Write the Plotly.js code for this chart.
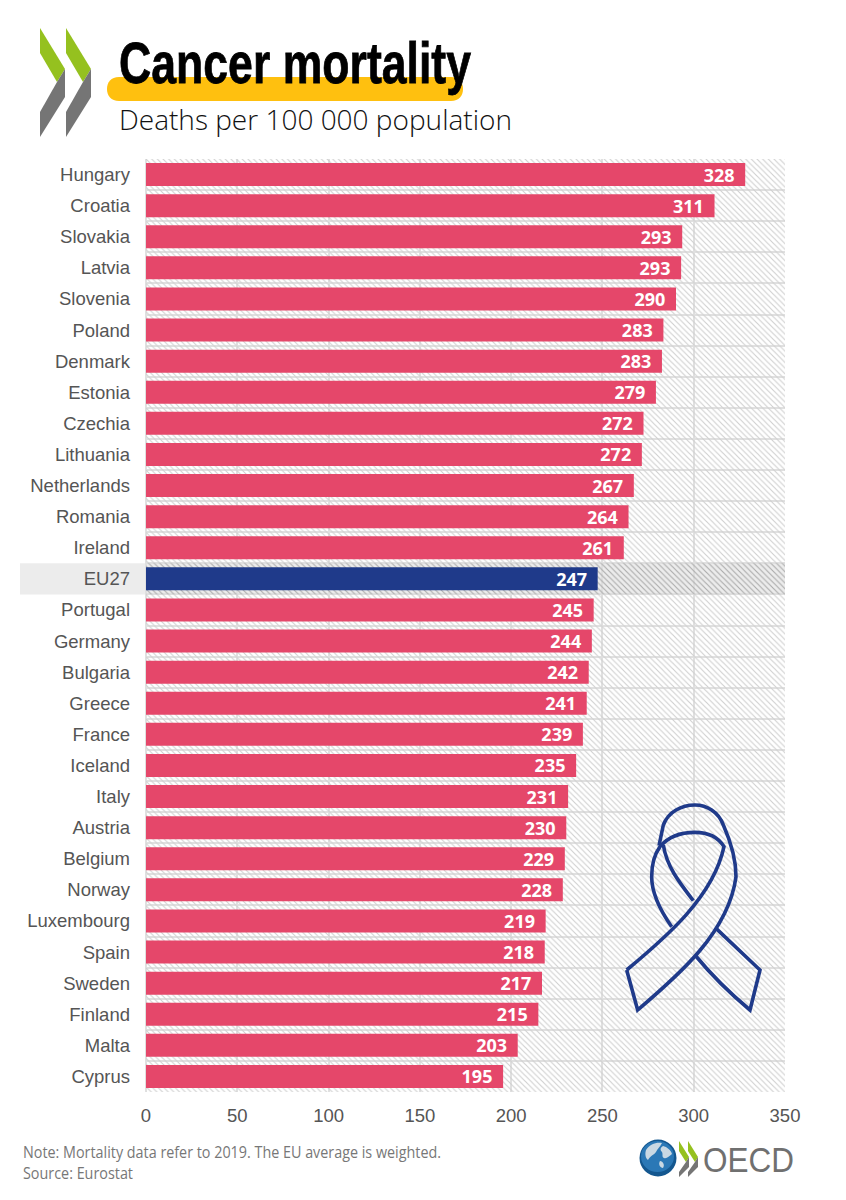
<!DOCTYPE html>
<html><head><meta charset="utf-8">
<script src="https://cdn.plot.ly/plotly-3.0.1.min.js"></script>
<style>html,body{margin:0;padding:0;background:#fff}#c{width:846px;height:1200px}</style>
</head><body><div id="c"></div>
<script>
const countries = ["Hungary","Croatia","Slovakia","Latvia","Slovenia","Poland","Denmark","Estonia","Czechia","Lithuania","Netherlands","Romania","Ireland","EU27","Portugal","Germany","Bulgaria","Greece","France","Iceland","Italy","Austria","Belgium","Norway","Luxembourg","Spain","Sweden","Finland","Malta","Cyprus"];
const deaths = [328,311,293,293,290,283,283,279,272,272,267,264,261,247,245,244,242,241,239,235,231,230,229,228,219,218,217,215,203,195];
// Positions drawn on the chart carry one decimal so bar ends match the picture; labels stay whole.
const barLengths = [328.2,311.4,293.7,293.1,290.3,283.4,282.6,279.3,272.5,271.6,267.2,264.3,261.7,247.4,245.2,244.2,242.5,241.4,239.3,235.6,231.2,230.2,229.4,228.3,218.9,218.4,216.9,214.9,203.6,195.6];
const xTicks = [0,50,100,150,200,250,300,350];
const axisMax = 350;
const highlight = "EU27";

const L=146,R=785,T=159,B=1092;
const px=x=>(x-L)/(R-L), py=y=>1-(y-T)/(B-T);
function path(d,ox=0,oy=0,s=1){
  let i=0;
  return d.replace(/-?\d+(\.\d+)?/g,m=>{const v=+m;const r=(i++%2===0)?px(ox+v*s):py(oy+v*s);return r.toFixed(5);});
}
const shape=(d,fill,line,w,layer,o)=>({type:'path',xref:'paper',yref:'paper',path:path(d,...(o||[])),fillcolor:fill||'rgba(0,0,0,0)',line:{color:line||'rgba(0,0,0,0)',width:w||0},layer:layer||'above'});
const circle=(x0,x1,y0,y1,fill)=>({type:'circle',xref:'paper',yref:'paper',x0:px(x0),x1:px(x1),y0:py(y1),y1:py(y0),fillcolor:fill,line:{width:0},layer:'above'});

const G='#95C11F',K='#757575';
const chevron=dx=>[
 shape(`M${40+dx},28 L${65+dx},69 L${57+dx},82 L${40+dx},53 Z`,G),
 shape(`M${57+dx},82 L${65+dx},69 L${65+dx},97 L${40+dx},137 L${40+dx},112 Z`,K)
];
const mini=dx=>[
 shape(`M${679+dx},1141 L${689+dx},1157 L${686+dx},1162 L${679+dx},1151 Z`,G),
 shape(`M${686+dx},1162 L${689+dx},1157 L${689+dx},1167 L${679+dx},1177 L${679+dx},1172 Z`,K)
];
const rib=[600,780,1/3];
const ribbon=[
 "M80,570 L113,690 C230,590 385,460 408,290 C408,240 390,180 370,135 C355,95 320,75 285,75 C245,75 205,95 190,135 L177,197",
 "M80,570 C200,470 340,350 372,200 C355,172 325,157 285,157 C245,157 205,170 180,200 C162,225 155,255 155,290 C155,340 180,390 215,440",
 "M190,195 C200,260 240,310 280,362",
 "M348,445 L480,570 L450,690 C390,640 330,580 285,525"
].map(d=>shape(d,null,'#1F3A8A',3.6,'above',rib));

const euIdx=countries.indexOf(highlight);
const euTop=T+(B-T)/countries.length*euIdx, euBot=euTop+(B-T)/countries.length;

const shapes=[
 {type:'rect',xref:'paper',yref:'paper',x0:px(20),x1:px(785),y0:py(euBot),y1:py(euTop),fillcolor:'#ececec',line:{width:0},layer:'below'},
 ...chevron(0),...chevron(26),
 shape("M119,77 L451,77 C459,77 463,82 463,89 C463,96 459,101 451,101 L119,101 C111,101 107,96 107,89 C107,82 111,77 119,77 Z",'#FFC00F'),
 ...ribbon,
 circle(639.5,676.5,1139.5,1176.5,'#14578F'),
 circle(641,674,1141,1172,'#2B78B6'),
 shape("M646,1150 C650,1144 656,1142 662,1143 C660,1147 657,1149 656,1152 C654,1155 650,1156 648,1160 C645,1158 645,1153 646,1150 Z",'#C9D8E3'),
 shape("M663,1146 C667,1147 671,1150 672,1154 C669,1156 667,1159 664,1158 C661,1157 664,1153 661,1151 C660,1149 661,1147 663,1146 Z",'#C9D8E3'),
 shape("M660,1161 C663,1161 665,1165 663,1168 C660,1168 658,1164 660,1161 Z",'#C9D8E3'),
 ...mini(0),...mini(9)
];

const ann=(x,y,text,font)=>({xref:'paper',yref:'paper',x:px(x),y:py(y),text,showarrow:false,xanchor:'left',yanchor:'middle',align:'left',borderpad:0,font});
const annotations=[
 ann(118,63,'Cancer mortality',{size:58,color:'#000',family:'"Liberation Sans"',weight:700}),
 ann(118,119,'Deaths per 100 000 population',{size:28,color:'#111',family:'"Open Sans"',weight:300}),
 ann(22,1151,'Note: Mortality data refer to 2019. The EU average is weighted.',{size:16.5,color:'#777',family:'"Open Sans"'}),
 ann(22,1172,'Source: Eurostat',{size:16.5,color:'#777',family:'"Open Sans"'}),
 ann(702,1159,'OECD',{size:35,color:'#707070',family:'"Liberation Sans"'})
];
// Text width in the picture: condensed faces are not installed, so these strings are squeezed to fit.
const fitWidths={'Cancer mortality':[352,0.8],'Note: Mortality data refer to 2019. The EU average is weighted.':[418,0],'Source: Eurostat':[110,0],'OECD':[91,0]};

const backdrop={type:'bar',orientation:'h',y:countries,x:countries.map(()=>axisMax),width:1,
 marker:{color:'rgba(0,0,0,0)',line:{width:0},pattern:{shape:'\\',size:4,solidity:0.28,
   fgcolor:countries.map(c=>c===highlight?'#aaaaaa':'#cfcfcf'),bgcolor:'rgba(0,0,0,0)'}},hoverinfo:'skip',showlegend:false};
const bars={type:'bar',orientation:'h',y:countries,x:barLengths,width:0.74,
 text:deaths.map(v=>String(v)+'\u00a0\u2009'),textposition:'inside',insidetextanchor:'end',textangle:0,constraintext:'none',
 textfont:{family:'"Open Sans"',size:18,color:'#fff',weight:700},
 marker:{color:countries.map(c=>c===highlight?'#1F3A8A':'#E5476A'),line:{width:0}},showlegend:false,
 hovertemplate:'%{y}: %{text}<extra></extra>'};

Plotly.newPlot('c',[backdrop,bars],{
 width:846,height:1200,margin:{l:L,r:846-R,t:T,b:1200-B,pad:0},
 paper_bgcolor:'#fff',plot_bgcolor:'#fff',barmode:'overlay',showlegend:false,
 font:{family:'"Liberation Sans"',color:'#555'},
 xaxis:{range:[0,axisMax],tickvals:xTicks,ticktext:xTicks.map(String),showgrid:true,gridcolor:'#e0e0e0',gridwidth:2,zeroline:true,zerolinecolor:'#e0e0e0',zerolinewidth:2,
   showline:false,ticks:'',ticklen:0,ticklabelstandoff:10,tickfont:{size:18.5,color:'#555',family:'"Liberation Sans"'},fixedrange:true},
 yaxis:{type:'category',categoryorder:'array',categoryarray:countries,autorange:false,range:[countries.length-0.5,-0.5],tickson:'boundaries',showgrid:true,gridcolor:'#e0e0e0',gridwidth:2,
   showline:false,ticks:'',ticklen:0,ticklabelstandoff:15,tickfont:{size:18.5,color:'#555',family:'"Liberation Sans"'},fixedrange:true,automargin:false},
 shapes,annotations
},{displayModeBar:false,staticPlot:true}).then(gd=>{
 gd.querySelectorAll('.annotation-text').forEach(t=>{
  const f=fitWidths[t.textContent];
  if(!f) return;
  t.setAttribute('textLength',f[0]);
  t.setAttribute('lengthAdjust','spacingAndGlyphs');
  if(f[1]){t.style.stroke='#000';t.style.strokeWidth=f[1]+'px';}
 });
});
</script></body></html>
